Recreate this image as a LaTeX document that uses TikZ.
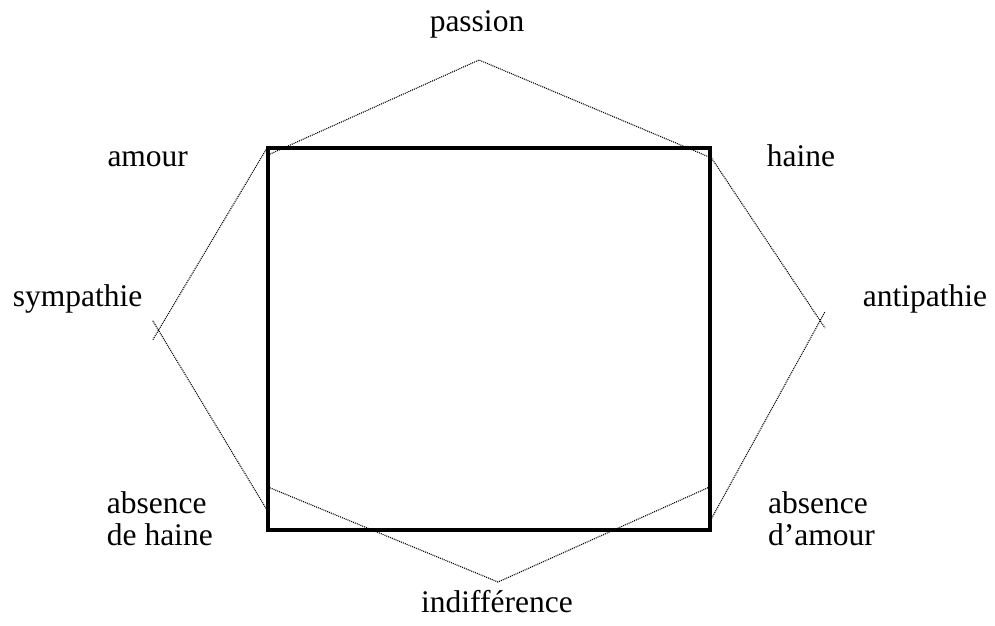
\documentclass[tikz,border=0pt]{standalone}
\usepackage{fontspec}
\setmainfont{Liberation Serif}
\begin{document}
\begin{tikzpicture}[x=1pt,y=-1pt,
  lbl/.style={inner sep=0pt,font=\fontsize{31.5}{31.7}\selectfont},
  hexline/.style={line width=1.1pt,dash pattern=on 1pt off 1pt,black},
  sqline/.style={line width=3.4pt}]
\useasboundingbox (0,0) rectangle (995,625);
% square corners
\coordinate (TL) at (268,148);
\coordinate (TR) at (710,148);
\coordinate (BR) at (710,530);
\coordinate (BL) at (268,530);
\draw[sqline] (TL) -- (TR) -- (BR) -- (BL) -- cycle;
% hexagon points
\coordinate (P) at (479,60);
\coordinate (PL) at (268,155);
\coordinate (PR) at (711.5,158);
\coordinate (HA) at (711.5,158);
\coordinate (AM) at (267,148);
\coordinate (SU) at (152.7,340);
\coordinate (SL) at (152.7,320.7);
\coordinate (AH) at (267,510);
\coordinate (AU) at (825,328);
\coordinate (AD) at (825,311.7);
\coordinate (AA) at (710.7,520);
\coordinate (I) at (498,582);
\coordinate (IL) at (268,487);
\coordinate (IR) at (709.5,487);
\draw[hexline] (PL) -- (P) -- (PR);
\draw[hexline] (AM) -- (SU);
\draw[hexline] (AH) -- (SL);
\draw[hexline] (HA) -- (AU);
\draw[hexline] (AA) -- (AD);
\draw[hexline] (IL) -- (I) -- (IR);
% labels
\node[lbl,anchor=base] (passion) at (477,31.7) {passion};
\node[lbl,anchor=base west] (amour) at (107.3,166.7) {amour};
\node[lbl,anchor=base west] (haine) at (766.7,166.7) {haine};
\node[lbl,anchor=base west] (sympathie) at (12.7,306.7) {sympathie};
\node[lbl,anchor=base west] (antipathie) at (862.7,306.7) {antipathie};
\node[lbl,anchor=base west,align=left] (absh) at (106.7,545) {absence\\de haine};
\node[lbl,anchor=base west,align=left] (absa) at (768,545) {absence\\d’amour};
\node[lbl,anchor=base] (indiff) at (497,612) {indifférence};
\end{tikzpicture}
\end{document}
